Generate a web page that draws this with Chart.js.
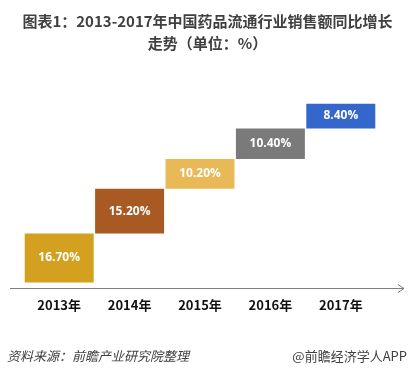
<!DOCTYPE html>
<html>
<head>
<meta charset="utf-8">
<script src="https://cdn.jsdelivr.net/npm/chart.js@4/dist/chart.umd.min.js"></script>
<style>
  body { margin: 0; background: #fff; }
  #wrap { position: relative; width: 415px; height: 374px; overflow: hidden;
          font-family: "Noto Sans CJK SC", "Noto Sans", sans-serif; }
  #title { position: absolute; top: 10px; left: 0; width: 415px; text-align: center;
           font-size: 15px; font-weight: bold; color: #404040; line-height: 22px; }
  #chart { position: absolute; top: 0; left: 0; }
  .foot { position: absolute; top: 346px; font-size: 13px; color: #404040; }
  #src { left: 7px; font-style: italic; }
  #app { right: 8px; }
</style>
</head>
<body>
<div id="wrap">
  <canvas id="chart" width="415" height="374"></canvas>
  <div id="title">图表1：2013-2017年中国药品流通行业销售额同比增长<br>走势（单位：%）</div>
  <div class="foot" id="src">资料来源：前瞻产业研究院整理</div>
  <div class="foot" id="app">@前瞻经济学人APP</div>
</div>
<script>
// data
const years   = ["2013年", "2014年", "2015年", "2016年", "2017年"];
const growth  = [16.7, 15.2, 10.2, 10.4, 8.4];
const colors  = ["#D4A020", "#A85A22", "#E8B956", "#7A7A7A", "#3566CC"];

// waterfall: each bar starts where the previous one ended
let run = 0;
const ranges = growth.map(v => {
    const r = [run, run + v];
    run += v;
    return r;
});

const axisArrow = {
    id: "axisArrow",
    afterDraw(chart) {
        const { ctx } = chart;
        const y = Math.round(chart.scales.y.getPixelForValue(-2));
        ctx.save();
        ctx.strokeStyle = "#7f7f7f";
        ctx.lineWidth = 1;
        ctx.beginPath();
        ctx.moveTo(10, y + 0.5);
        ctx.lineTo(404, y + 0.5);
        ctx.moveTo(398, y - 3.5);
        ctx.lineTo(404, y + 0.5);
        ctx.lineTo(398, y + 4.5);
        ctx.stroke();
        ctx.restore();
    }
};

const valueLabels = {
    id: "valueLabels",
    afterDatasetsDraw(chart) {
        const { ctx } = chart;
        const meta = chart.getDatasetMeta(0);
        ctx.save();
        ctx.fillStyle = "#fff";
        ctx.font = "bold 12px 'Open Sans', 'Noto Sans', sans-serif";
        ctx.textAlign = "center";
        ctx.textBaseline = "middle";
        meta.data.forEach((bar, i) => {
            const mid = (bar.y + bar.base) / 2;
            ctx.fillText(growth[i].toFixed(2) + "%", bar.x, mid);
        });
        ctx.restore();
    }
};

new Chart(document.getElementById("chart"), {
    type: "bar",
    data: {
        labels: years,
        datasets: [{
            data: ranges,
            backgroundColor: colors,
            borderWidth: 0,
            borderSkipped: false,
            barPercentage: 1,
            categoryPercentage: 0.98,
        }],
    },
    options: {
        responsive: false,
        animation: false,
        layout: { padding: { top: 77, bottom: 52, left: 24, right: 39 } },
        scales: {
            x: {
                grid: { display: false, drawTicks: false },
                border: { display: false },
                ticks: {
                    padding: 9,
                    color: "#111",
                    font: { family: "'Noto Sans CJK SC', sans-serif", size: 13, weight: "bold" },
                },
            },
            y: { display: false, min: -2, max: 70 },
        },
        plugins: { legend: { display: false }, tooltip: { enabled: false } },
    },
    plugins: [axisArrow, valueLabels],
});
</script>
</body>
</html>
